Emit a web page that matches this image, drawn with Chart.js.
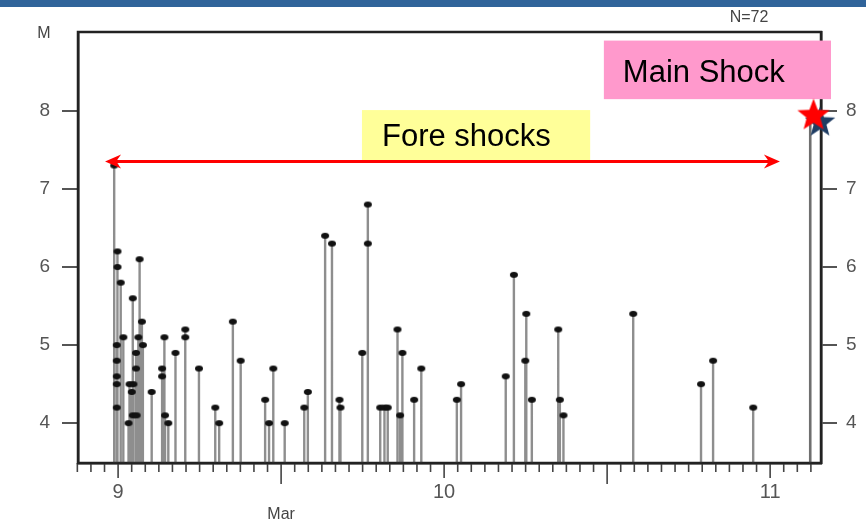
<!DOCTYPE html>
<html>
<head>
<meta charset="utf-8">
<script src="https://cdn.jsdelivr.net/npm/chart.js@4/dist/chart.umd.min.js"></script>
<style>
  html, body { margin: 0; padding: 0; background: #fff; }
  #wrap { width: 866px; height: 525px; position: relative; }
</style>
</head>
<body>
<div id="wrap"><canvas id="c" width="866" height="525"></canvas></div>
<script>
// ---- Data ----
// Event times in days of March (decimal), foreshocks
const eventDays = [
  8.988, 8.998, 8.998, 9.008, 9.045, 9.066, 9.016, 9.073, 8.996, 8.996,
  8.996, 8.996, 8.996, 9.062, 9.076, 9.055, 9.055, 9.035, 9.047, 9.042,
  9.045, 9.057, 9.032, 9.103, 9.135, 9.135, 9.142, 9.144, 9.154, 9.176,
  9.206, 9.206, 9.248, 9.298, 9.310, 9.352, 9.376, 9.451, 9.463, 9.476,
  9.511, 9.571, 9.582, 9.635, 9.656, 9.679, 9.682, 9.749, 9.766, 9.766,
  9.804, 9.817, 9.827, 9.857, 9.865, 9.872, 9.908, 9.930, 10.039, 10.052,
  10.189, 10.214, 10.252, 10.249, 10.269, 10.350, 10.355, 10.366, 10.580, 10.788,
  10.825, 10.948
];
// Magnitudes of the foreshocks
const magnitudes = [
  7.3, 6.2, 6.0, 5.8, 5.6, 6.1, 5.1, 5.3, 5.0, 4.8,
  4.6, 4.5, 4.2, 5.1, 5.0, 4.9, 4.7, 4.5, 4.5, 4.4,
  4.1, 4.1, 4.0, 4.4, 4.7, 4.6, 5.1, 4.1, 4.0, 4.9,
  5.2, 5.1, 4.7, 4.2, 4.0, 5.3, 4.8, 4.3, 4.0, 4.7,
  4.0, 4.2, 4.4, 6.4, 6.3, 4.3, 4.2, 4.9, 6.8, 6.3,
  4.2, 4.2, 4.2, 5.2, 4.1, 4.9, 4.3, 4.7, 4.3, 4.5,
  4.6, 5.9, 5.4, 4.8, 4.3, 5.2, 4.3, 4.1, 5.4, 4.5,
  4.8, 4.2
];
const mainShockDay = [11.123];
const mainShockMag = [7.9];
const starRedPos = [11.133, 7.94];
const starBluePos = [11.153, 7.85];
const yTickValues = [4, 5, 6, 7, 8];
const xTickLabels = [9, 10, 11];
const xRange = [8.877, 11.156];
const yRange = [3.49, 9.01];
const arrowSpan = [8.96, 11.03];
const arrowLevel = [7.35];
const annotationTexts = ["Fore shocks", "Main Shock"];
const countText = "N=72";
const axisUnitText = "M";
const monthText = "Mar";

// ---- Build datasets ----
const stemData = [];
eventDays.forEach((d, i) => {
  stemData.push({x: d, y: yRange[0]});
  stemData.push({x: d, y: magnitudes[i]});
  stemData.push({x: d, y: null});
});
const dotData = eventDays.map((d, i) => ({x: d, y: magnitudes[i]}));
const mainStem = [{x: mainShockDay[0], y: yRange[0]}, {x: mainShockDay[0], y: mainShockMag[0]}];

function makeStar(color, r) {
  const c = document.createElement('canvas');
  const s = Math.ceil(r * 2 + 2);
  c.width = s; c.height = s;
  const g = c.getContext('2d');
  const cx = s / 2, cy = s / 2;
  g.beginPath();
  for (let i = 0; i < 10; i++) {
    const rad = (i % 2 === 0) ? r : r * 0.42;
    const a = -Math.PI / 2 + i * Math.PI / 5;
    const px = cx + rad * Math.cos(a), py = cy + rad * Math.sin(a);
    if (i === 0) g.moveTo(px, py); else g.lineTo(px, py);
  }
  g.closePath();
  g.fillStyle = color;
  g.fill();
  return c;
}
function makeDot() {
  const c = document.createElement('canvas');
  c.width = 10; c.height = 8;
  const g = c.getContext('2d');
  g.beginPath();
  g.ellipse(5, 4, 4.0, 2.9, 0, 0, Math.PI * 2);
  g.fillStyle = '#111';
  g.fill();
  return c;
}
const redStar = makeStar('#ff0000', 17);
const blueStar = makeStar('#1f3d63', 16);
const dotImg = makeDot();

const FONT = '"Liberation Sans", Arial, Helvetica, sans-serif';

const decor = {
  id: 'decor',
  beforeDraw(chart) {
    const ctx = chart.ctx;
    ctx.save();
    ctx.fillStyle = '#ffffff';
    ctx.fillRect(0, 0, chart.width, chart.height);
    ctx.fillStyle = '#30649a';
    ctx.fillRect(0, 0, chart.width, 7);
    ctx.fillStyle = '#444';
    ctx.font = '16px ' + FONT;
    ctx.textAlign = 'center';
    ctx.textBaseline = 'middle';
    ctx.fillText(axisUnitText, 44, 34);
    ctx.fillText(countText, 749, 18);
    const xs = chart.scales.x;
    ctx.fillText(monthText, xs.getPixelForValue(9.5), 515);
    ctx.restore();
  },
  beforeDatasetsDraw(chart) {
    const ctx = chart.ctx;
    const a = chart.chartArea;
    const xs = chart.scales.x, ys = chart.scales.y;
    ctx.save();
    // hourly ticks
    ctx.strokeStyle = '#444';
    ctx.lineWidth = 1.6;
    const k0 = Math.ceil((xs.min - 0.002) * 24), k1 = Math.floor(xs.max * 24);
    for (let k = k0; k <= k1; k++) {
      const px = xs.getPixelForValue(k / 24);
      const len = (k % 24 === 0) ? 15 : (k % 12 === 0 ? 21 : 9);
      ctx.beginPath();
      ctx.moveTo(px, a.bottom);
      ctx.lineTo(px, a.bottom + len);
      ctx.stroke();
    }
    // plot frame
    ctx.strokeStyle = '#222';
    ctx.lineWidth = 2.5;
    ctx.strokeRect(a.left, a.top, a.right - a.left, a.bottom - a.top);
    // annotation boxes
    const fx0 = xs.getPixelForValue(9.748), fx1 = xs.getPixelForValue(10.448);
    const fy0 = ys.getPixelForValue(8.01), fy1 = ys.getPixelForValue(7.37);
    ctx.fillStyle = '#ffff99';
    ctx.fillRect(fx0, fy0, fx1 - fx0, fy1 - fy0);
    const mx0 = xs.getPixelForValue(10.49), mx1 = 831;
    const my0 = ys.getPixelForValue(8.9), my1 = ys.getPixelForValue(8.15);
    ctx.fillStyle = '#ff99cc';
    ctx.fillRect(mx0, my0, mx1 - mx0, my1 - my0);
    ctx.fillStyle = '#000';
    ctx.font = '31px ' + FONT;
    ctx.textAlign = 'left';
    ctx.textBaseline = 'alphabetic';
    ctx.fillText(annotationTexts[0], fx0 + 20, fy0 + 36);
    ctx.fillText(annotationTexts[1], mx0 + 19, my0 + 41);
    ctx.restore();
  },
  afterDatasetsDraw(chart) {
    const ctx = chart.ctx;
    const xs = chart.scales.x, ys = chart.scales.y;
    const x0 = xs.getPixelForValue(arrowSpan[0]);
    const x1 = xs.getPixelForValue(arrowSpan[1]);
    const y = ys.getPixelForValue(arrowLevel[0]);
    ctx.save();
    ctx.strokeStyle = '#ff0000';
    ctx.fillStyle = '#ff0000';
    ctx.lineWidth = 3;
    ctx.beginPath();
    ctx.moveTo(x0 + 8, y);
    ctx.lineTo(x1 - 8, y);
    ctx.stroke();
    const head = (tip, dir) => {
      ctx.beginPath();
      ctx.moveTo(tip, y);
      ctx.lineTo(tip - dir * 16, y - 7);
      ctx.lineTo(tip - dir * 11, y);
      ctx.lineTo(tip - dir * 16, y + 7);
      ctx.closePath();
      ctx.fill();
    };
    head(x0, -1);
    head(x1, 1);
    ctx.restore();
  }
};

const yAxisCommon = {
  type: 'linear',
  min: yRange[0],
  max: yRange[1],
  afterBuildTicks: (s) => { s.ticks = yTickValues.map(v => ({value: v})); },
  grid: { drawOnChartArea: false, tickLength: 16, color: '#555', lineWidth: 2 },
  border: { display: true, color: '#222', width: 2.5 },
  ticks: { color: '#555', font: { family: FONT, size: 19 }, padding: 12 }
};

new Chart(document.getElementById('c'), {
  type: 'scatter',
  data: {
    datasets: [
      {
        data: stemData, showLine: true, spanGaps: false,
        borderColor: 'rgba(50,50,50,0.55)', borderWidth: 2.4,
        pointRadius: 0, order: 3
      },
      {
        data: mainStem, showLine: true,
        borderColor: 'rgba(50,50,50,0.7)', borderWidth: 2.6,
        pointRadius: 0, order: 3
      },
      {
        data: dotData, pointStyle: dotImg, pointRadius: 4, order: 2
      },
      {
        data: [{x: starBluePos[0], y: starBluePos[1]}], pointStyle: blueStar,
        pointRadius: 16, clip: false, order: 1
      },
      {
        data: [{x: starRedPos[0], y: starRedPos[1]}], pointStyle: redStar,
        pointRadius: 17, clip: false, order: 0
      }
    ]
  },
  options: {
    responsive: false,
    animation: false,
    events: [],
    layout: { padding: { top: 32, left: 0, right: 0, bottom: 0 } },
    plugins: { legend: { display: false }, tooltip: { enabled: false } },
    scales: {
      x: {
        type: 'linear',
        min: xRange[0],
        max: xRange[1],
        afterBuildTicks: (s) => { s.ticks = xTickLabels.map(v => ({value: v})); },
        afterFit: (s) => { s.height = 62; },
        grid: { drawOnChartArea: false, drawTicks: false },
        border: { display: true, color: '#222', width: 2.5 },
        ticks: { color: '#555', font: { family: FONT, size: 20 }, padding: 17,
                  callback: (v) => String(v) }
      },
      y: Object.assign({}, yAxisCommon, {
        position: 'left',
        afterFit: (s) => { s.width = 78; }
      }),
      y2: Object.assign({}, yAxisCommon, {
        position: 'right',
        afterFit: (s) => { s.width = 45; },
        ticks: { color: '#555', font: { family: FONT, size: 19 }, padding: 9 }
      })
    }
  },
  plugins: [decor]
});
</script>
</body>
</html>
